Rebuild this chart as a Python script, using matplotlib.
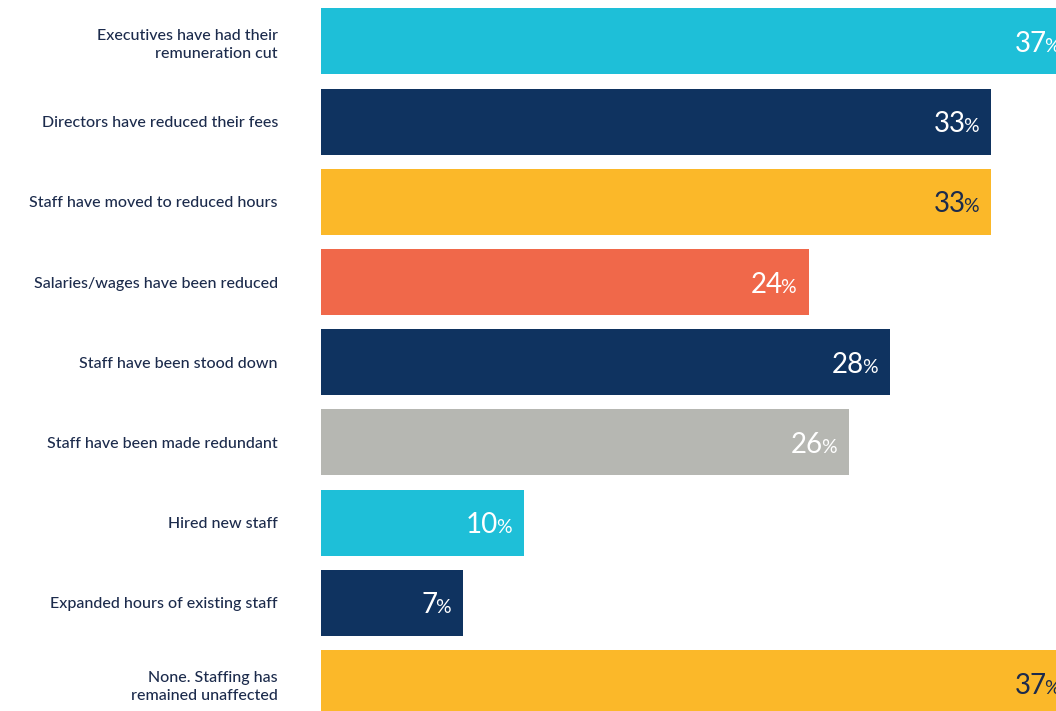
import matplotlib.pyplot as plt

labels = [
    "Executives have had their\nremuneration cut",
    "Directors have reduced their fees",
    "Staff have moved to reduced hours",
    "Salaries/wages have been reduced",
    "Staff have been stood down",
    "Staff have been made redundant",
    "Hired new staff",
    "Expanded hours of existing staff",
    "None. Staffing has\nremained unaffected",
]
values = [37, 33, 33, 24, 28, 26, 10, 7, 37]
bar_colors = ["#1ebfd8", "#0f3360", "#fbb829", "#f0684a", "#0f3360",
              "#b6b7b2", "#1ebfd8", "#0f3360", "#fbb829"]
text_colors = ["white", "white", "#1c2b4c", "white", "white",
               "white", "white", "white", "#1c2b4c"]

plt.rcParams['font.family'] = ['Lato', 'DejaVu Sans']

fig = plt.figure(figsize=(10.56, 7.11), dpi=100)
ax = fig.add_axes([0.304, 0.0, 0.696, 1.0])

pos = list(range(len(values)))
ax.barh(pos, values, height=0.823, color=bar_colors)

ax.set_xlim(0, 36.18)
ax.set_ylim(8.348, -0.517)

ax.set_yticks(pos)
ax.set_yticklabels(labels, fontsize=11.5, fontweight='medium',
                   color="#1c2b4c", linespacing=1.4)
ax.tick_params(axis='y', length=0, pad=31)
ax.set_xticks([])
for s in ax.spines.values():
    s.set_visible(False)

# value labels: big number followed by a smaller percent sign
for i, (v, tc) in enumerate(zip(values, text_colors)):
    pct = ax.annotate("%", xy=(v, i + 0.13), xytext=(-9, 0),
                      textcoords='offset points', ha='right', va='baseline',
                      fontsize=14, color=tc, annotation_clip=False)
    ax.annotate(str(v), xy=(0, i + 0.13), xycoords=(pct, 'data'),
                xytext=(1.5, 0), textcoords='offset points',
                ha='right', va='baseline', fontsize=20, color=tc,
                annotation_clip=False)

fig.savefig("out.png", dpi=100, facecolor="white")
